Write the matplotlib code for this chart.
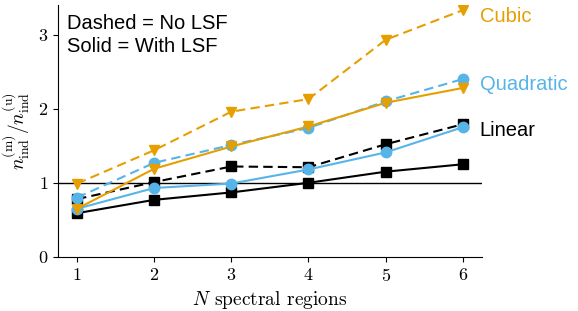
import numpy as np
import matplotlib
matplotlib.use("Agg")
import matplotlib.pyplot as plt

plt.rcParams.update({
    "font.family": "serif", "font.serif": ["cmr10"],
    "mathtext.fontset": "cm", "axes.formatter.use_mathtext": True,
    "font.size": 13,
})

N = [1, 2, 3, 4, 5, 6]
lin_no = [0.78, 1.01, 1.22, 1.21, 1.52, 1.79]
lin_lsf = [0.59, 0.77, 0.87, 1.00, 1.15, 1.25]
quad_no = [0.80, 1.27, 1.51, 1.74, 2.10, 2.40]
quad_lsf = [0.65, 0.93, 0.99, 1.18, 1.41, 1.75]
cub_no = [0.99, 1.44, 1.96, 2.13, 2.93, 3.33]
cub_lsf = [0.65, 1.19, 1.49, 1.76, 2.08, 2.28]

ORANGE, BLUE, BLACK = "#E69F00", "#56B4E9", "k"
SANS = "Liberation Sans"

fig = plt.figure(figsize=(5.78, 3.11), dpi=100)
ax = fig.add_axes([0.100, 0.174, 0.734, 0.810])
ax.axhline(1, color="k", lw=1.0, zorder=1)

dash = (0, (4.5, 2.5))
kw = dict(lw=1.5, ms=7.5, zorder=3)
ax.plot(N, lin_no, color=BLACK, ls=dash, marker="s", **kw)
ax.plot(N, lin_lsf, color=BLACK, ls="-", marker="s", **kw)
ax.plot(N, quad_no, color=BLUE, ls=dash, marker="o", **kw)
ax.plot(N, quad_lsf, color=BLUE, ls="-", marker="o", **kw)
ax.plot(N, cub_no, color=ORANGE, ls=dash, marker="v", **kw)
ax.plot(N, cub_lsf, color=ORANGE, ls="-", marker="v", **kw)

ax.set_xlim(0.75, 6.25)
ax.set_ylim(0, 3.4)
ax.set_xticks(N)
ax.set_yticks([0, 1, 2, 3])
ax.spines[["top", "right"]].set_visible(False)
ax.set_xlabel(r"$N$ spectral regions", fontsize=14)
ax.set_ylabel(r"$n_{\rm ind}^{\rm (m)}/n_{\rm ind}^{\rm (u)}$", fontsize=14)

ax.text(0.022, 0.965, "Dashed = No LSF\nSolid = With LSF", transform=ax.transAxes,
        family=SANS, fontsize=14.5, va="top", ha="left", linespacing=1.25)
ax.text(6.22, 3.24, "Cubic", color=ORANGE, family=SANS, fontsize=14.5,
        va="center", ha="left")
ax.text(6.22, 2.32, "Quadratic", color=BLUE, family=SANS, fontsize=14.5,
        va="center", ha="left")
ax.text(6.22, 1.7, "Linear", color=BLACK, family=SANS, fontsize=14.5,
        va="center", ha="left")

for t in ax.texts:
    t.set_clip_on(False)

fig.savefig("out.png", dpi=100)
